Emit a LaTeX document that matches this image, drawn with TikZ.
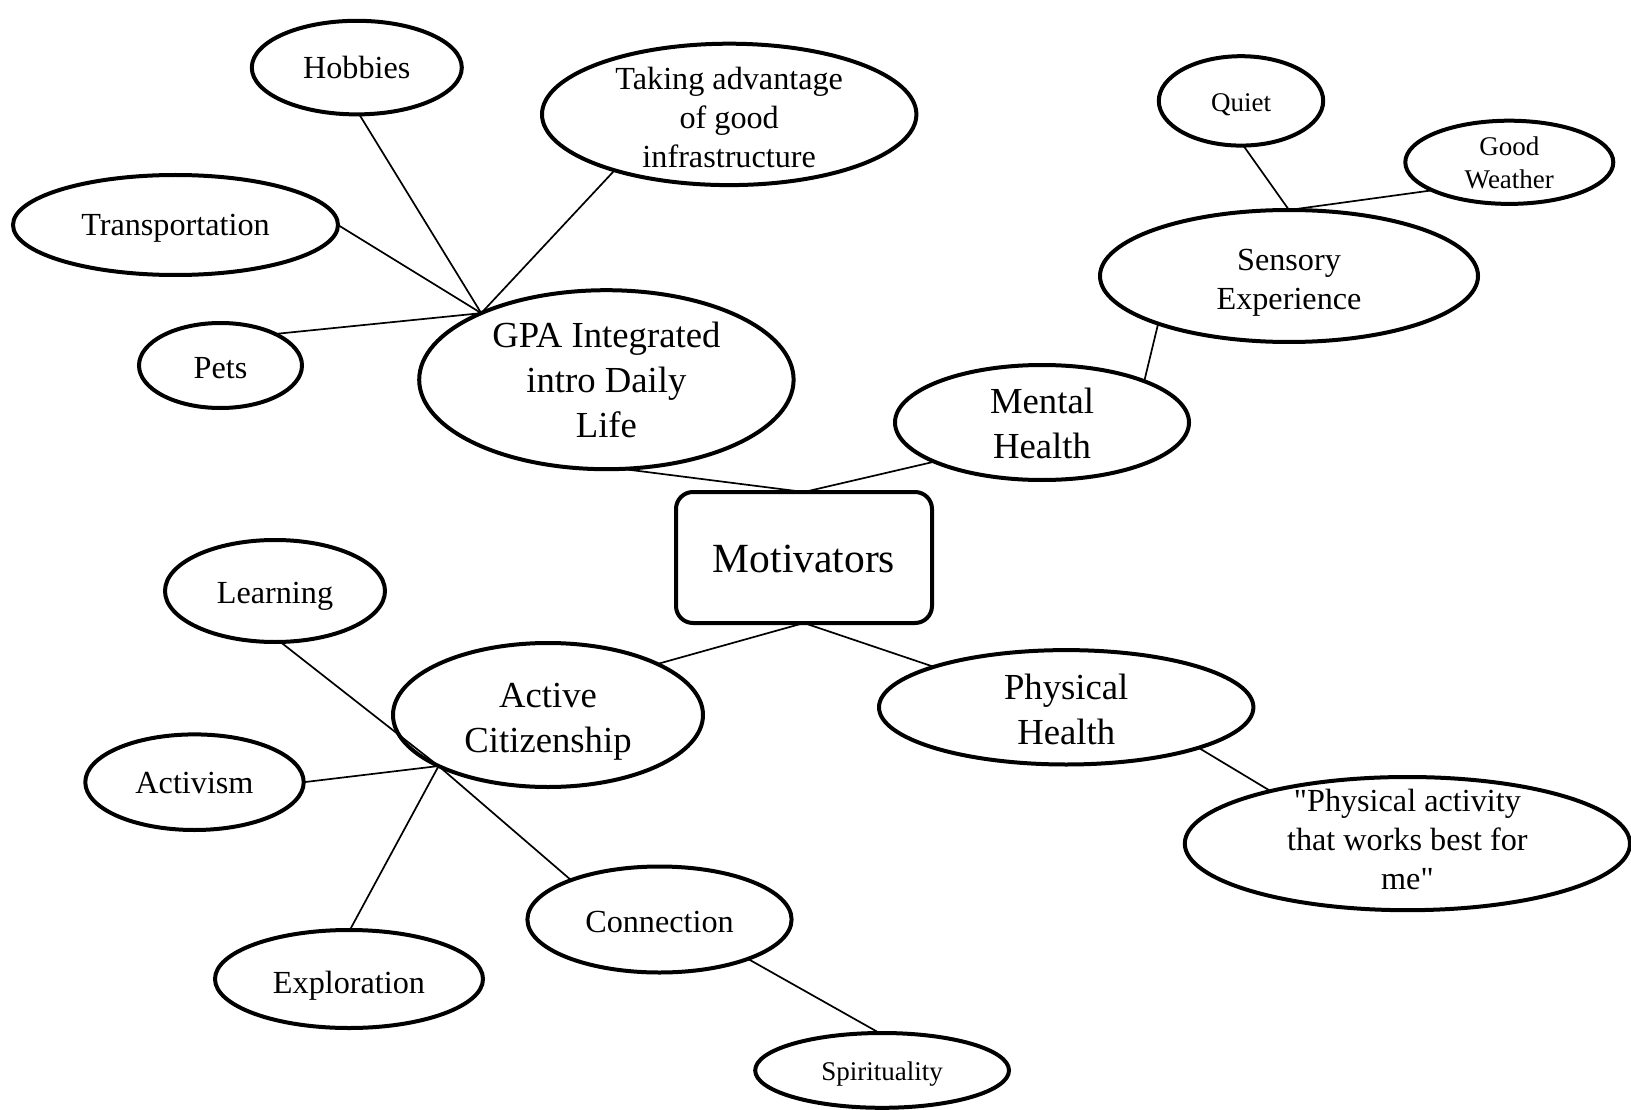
\documentclass[tikz,border=0pt]{standalone}
\usepackage{fontspec}
\setmainfont{Liberation Serif}[Ligatures=TeXOff]
\usetikzlibrary{shapes.geometric}

% text sizes used in the mind map
\newcommand{\fmot}{\fontsize{41.5}{50}\selectfont}
\newcommand{\fbig}{\fontsize{36.7}{44.7}\selectfont}
\newcommand{\fmid}{\fontsize{32.2}{39}\selectfont}
\newcommand{\fsml}{\fontsize{27}{33.3}\selectfont}
% strut that centres a text block between cap height and baseline
\newcommand{\capstrut}{\rule[-0.25em]{0pt}{1.15em}}

\begin{document}
\begin{tikzpicture}[
  x=1pt, y=-1pt,
  bub/.style 2 args={draw, ellipse, line width=4pt, minimum width=#1,
    minimum height=#2, inner sep=0pt, outer sep=0pt},
  hub/.style={draw, rectangle, rounded corners=17pt, line width=4pt,
    minimum width=256pt, minimum height=131pt, inner sep=0pt, outer sep=0pt},
  txt/.style={align=center, inner sep=0pt,
    execute at begin node=\capstrut, execute at end node=\capstrut},
  tmot/.style={txt, font=\fmot},
  tbig/.style={txt, font=\fbig},
  tmid/.style={txt, font=\fmid},
  tsml/.style={txt, font=\fsml},
  link/.style={line width=1.7pt},
]
\useasboundingbox (0,0) rectangle (1631,1110);

% central node
\node[hub, label={[tmot, yshift=-2pt]center:Motivators}] (mot) at (804,557.5) {};

% daily life branch
\node[bub={374.4}{179}, label={[tbig, yshift=-4.7pt]center:{GPA Integrated\\intro Daily\\Life}}] (gpa) at (606.4,379.7) {};
\node[bub={210}{93.6}, label={[tmid]center:Hobbies}] (hob) at (356.8,67.6) {};
\node[bub={374.4}{141.4}, label={[tmid, yshift=-6.8pt]center:{Taking advantage\\of good\\infrastructure}}] (adv) at (729.2,114.4) {};
\node[bub={325}{100}, label={[tmid]center:Transportation}] (trans) at (175.5,225) {};
\node[bub={163}{85}, label={[tmid, yshift=-3pt]center:Pets}] (pets) at (220.5,365.5) {};

% mental health branch
\node[bub={294}{115}, label={[tbig, yshift=-5.2pt]center:{Mental\\Health}}] (mh) at (1042,422.5) {};
\node[bub={378}{132}, label={[tmid, yshift=-7.3pt]center:{Sensory\\Experience}}] (sens) at (1289,276) {};
\node[bub={164.4}{89.4}, label={[tsml, yshift=-2pt]center:Quiet}] (quiet) at (1241,100.9) {};
\node[bub={208}{83.2}, label={[tsml, yshift=-3.6pt]center:{Good\\Weather}}] (weather) at (1509.3,162.3) {};

% physical health branch
\node[bub={374.4}{114.4}, label={[tbig, yshift=-6.8pt]center:{Physical\\Health}}] (ph) at (1066.2,707.3) {};
\node[bub={445.2}{133.2}, label={[tmid]center:{"Physical activity\\that works best for\\me"}}] (pact) at (1407.4,843.6) {};

% active citizenship branch
\node[bub={310}{144}, label={[tbig, yshift=-7.3pt]center:{Active\\Citizenship}}] (ac) at (548,715) {};
\node[bub={220}{102}, label={[tmid, yshift=-2pt]center:Learning}] (learn) at (275,591) {};
\node[bub={218.4}{95.6}, label={[tmid, yshift=-1pt]center:Activism}] (activ) at (194.5,782.2) {};
\node[bub={268}{98}, label={[tmid, yshift=-4.2pt]center:Exploration}] (expl) at (349,979) {};
\node[bub={264.2}{106}, label={[tmid, yshift=-3pt]center:Connection}] (conn) at (659.5,919.5) {};
\node[bub={253.8}{74.8}, label={[tsml, yshift=-1pt]center:Spirituality}] (spir) at (882.1,1070.4) {};

% junction points on the branch ellipses
\coordinate (dailyhub) at (gpa.152.6);
\coordinate (cithub) at (ac.205.7);

% connectors
\draw[link] (mot.north) -- (gpa.280);
\draw[link] (mot.north) -- (mh.200.3);
\draw[link] (mot.south) -- (ac.25.4);
\draw[link] (mot.south) -- (ph.163);

\draw[link] (hob.273) -- (dailyhub);
\draw[link] (trans.0) -- (dailyhub);
\draw[link] (pets.30) -- (dailyhub);
\draw[link] (adv.206) -- (dailyhub);

\draw[link] (mh.22.8) -- (sens.200.1);
\draw[link] (sens.north) -- (quiet.273);
\draw[link] (sens.north) -- (weather.200);

\draw[link] (ph.343) -- (pact.159);

\draw[link] (learn.276) -- (cithub) -- (conn.156.7);
\draw[link] (activ.0) -- (cithub);
\draw[link] (expl.89) -- (cithub);
\draw[link] (conn.336) -- (spir.94);
\end{tikzpicture}
\end{document}
